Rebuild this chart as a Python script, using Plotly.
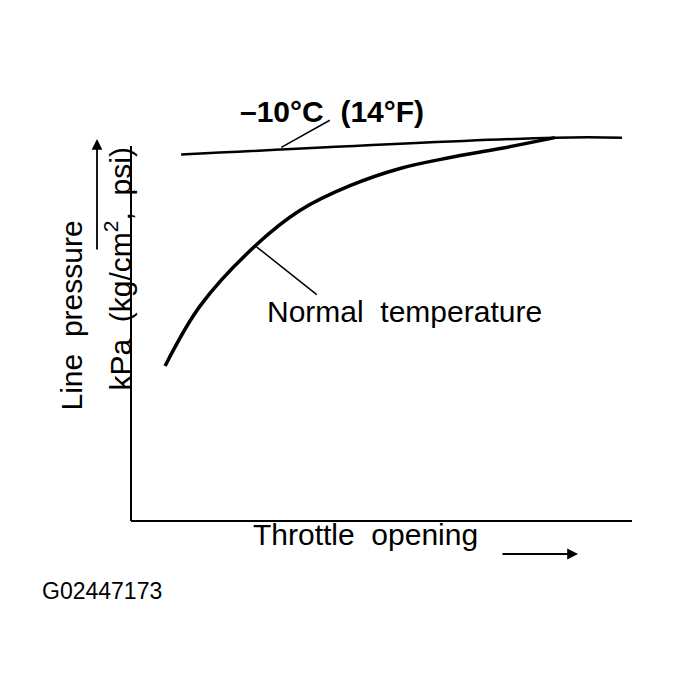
import plotly.graph_objects as go

throttle_normal = [6.8, 13.8, 24.8, 33.7, 43.7, 53.7, 63.7, 73.7, 84.6]
pressure_normal = [41.3, 57.3, 73.3, 82.7, 89.3, 93.9, 96.8, 99.2, 102.1]
throttle_cold = [10, 84.6, 98]
pressure_cold = [97.6, 102.1, 102.1]

F = "Liberation Sans, Arial, sans-serif"
def px(p): return (p - 131) / 501
def py(p): return (520 - p) / 413

fig = go.Figure()
fig.add_trace(go.Scatter(x=throttle_cold, y=pressure_cold, mode="lines",
                         line=dict(color="black", width=2.5), line_shape="spline", hoverinfo="skip"))
fig.add_trace(go.Scatter(x=throttle_normal, y=pressure_normal, mode="lines",
                         line=dict(color="black", width=3.5), line_shape="spline", hoverinfo="skip"))

fig.update_layout(
    width=684, height=687, showlegend=False,
    paper_bgcolor="white", plot_bgcolor="white",
    margin=dict(l=123, r=60, t=100, b=174),
    xaxis=dict(range=[0, 100], visible=False),
    yaxis=dict(range=[0, 110], visible=False),
    shapes=[
        dict(type="line", xref="paper", yref="paper", x0=0, x1=1, y0=0, y1=0, line=dict(color="black", width=2)),
        dict(type="line", xref="paper", yref="paper", x0=0, x1=0, y0=0, y1=py(145), line=dict(color="black", width=2)),
    ],
    annotations=[
        dict(x=30, y=99.5, ax=50, ay=-28, text="", showarrow=True, arrowhead=0, arrowwidth=1.5, arrowcolor="black"),
        dict(xref="paper", yref="paper", x=px(332), y=py(92), text="<b>–10°C  (14°F)</b>", showarrow=False,
             font=dict(family=F, size=30, color="black")),
        dict(x=24.8, y=73.3, ax=63, ay=50, text="", showarrow=True, arrowhead=0, arrowwidth=1.5, arrowcolor="black"),
        dict(xref="paper", yref="paper", x=px(404), y=py(310), text="Normal  temperature", showarrow=False,
             font=dict(family=F, size=30, color="black")),
        dict(xref="paper", yref="paper", x=px(52), y=py(412), text="Line  pressure", textangle=-90,
             showarrow=False, font=dict(family=F, size=30, color="black")),
        dict(xref="paper", yref="paper", x=px(97), y=py(392), text="kPa  (kg/cm<sup>2</sup>,  psi)", textangle=-90,
             showarrow=False, font=dict(family=F, size=30, color="black")),
        dict(xref="paper", yref="paper", x=px(97), y=py(138), axref="pixel", ayref="pixel",
             ax=0, ay=112, text="", showarrow=True, arrowhead=2, arrowsize=1.2, arrowwidth=1.8, arrowcolor="black"),
        dict(xref="paper", yref="paper", x=px(365), y=py(552), text="Throttle  opening", showarrow=False,
             font=dict(family=F, size=30, color="black")),
        dict(xref="paper", yref="paper", x=px(578), y=py(553), axref="pixel", ayref="pixel",
             ax=-77, ay=0, text="", showarrow=True, arrowhead=2, arrowsize=1.2, arrowwidth=1.8, arrowcolor="black"),
        dict(xref="paper", yref="paper", x=px(40), y=py(605), xanchor="left", text="G02447173",
             showarrow=False, font=dict(family=F, size=23, color="black")),
    ],
)
fig.write_html("out.html")
